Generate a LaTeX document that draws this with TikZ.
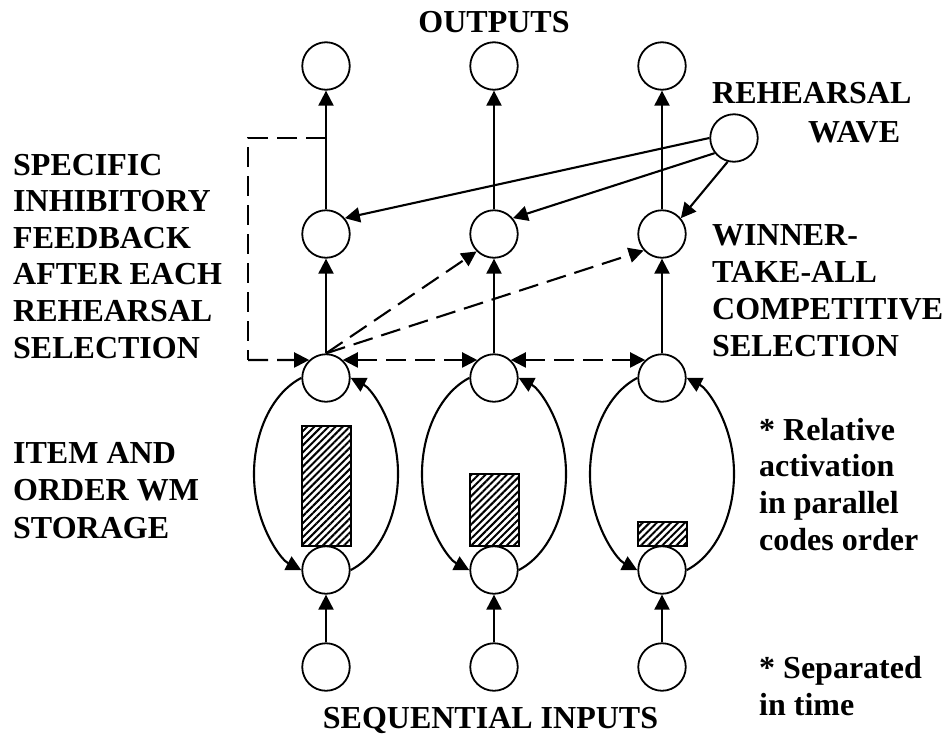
\documentclass[tikz,border=0pt]{standalone}
\usepackage{fontspec}
\setmainfont{Liberation Serif}
\usetikzlibrary{arrows.meta,patterns.meta}
\begin{document}
\begin{tikzpicture}[x=1pt,y=-1pt,
  neuron/.style={circle,draw,line width=1.8pt,minimum size=47.5pt,inner sep=0pt,outer sep=0.9pt},
  tipa/.style={-{Triangle[length=15pt,width=15pt]}},
  conn/.style={line width=2.1pt,tipa},
  fbline/.style={line width=2.1pt,dash pattern=on 20pt off 9pt},
  hatch/.style={line width=2pt,pattern={Lines[angle=45,distance=5pt,line width=2pt]}},
  lab/.style={font=\fontsize{32}{37}\selectfont\bfseries,inner sep=0pt,anchor=base west},
  title/.style={font=\fontsize{32}{37}\selectfont\bfseries,inner sep=0pt,anchor=base}
]
\useasboundingbox (0,0) rectangle (945,734);

% three columns of units
\foreach \c/\x in {1/326,2/494,3/662}{
  \node[neuron] (O\c) at (\x,66)  {};
  \node[neuron] (M\c) at (\x,234) {};
  \node[neuron] (L\c) at (\x,378) {};
  \node[neuron] (B\c) at (\x,570) {};
  \node[neuron] (I\c) at (\x,667) {};
  \coordinate (E\c) at (\x,474);
}
\node[neuron] (rw) at (734,138) {};

% feed-forward connections
\foreach \c in {1,2,3}{
  \draw[conn] (M\c) -- (O\c);
  \draw[conn] (L\c) -- (M\c);
  \draw[conn] (I\c) -- (B\c);
  % storage loop
  \draw[conn] ([shift={(249.9:72 and 102.3)}]E\c)
     arc[start angle=249.9,end angle=110.1,x radius=72,y radius=102.3];
  \draw[conn] ([shift={(69.9:72 and 102.3)}]E\c)
     arc[start angle=69.9,end angle=-69.9,x radius=72,y radius=102.3];
}

% activation levels
\draw[hatch] (301.5,426) rectangle (350.5,546);
\draw[hatch] (469.5,474) rectangle (518.5,546);
\draw[hatch] (637.5,522) rectangle (686.5,546);

% rehearsal wave
\draw[conn] (rw.180) -- (M1.40);
\draw[conn] (rw.218) -- (M2.40);
\draw[conn] (rw.255) -- (M3.40);

% inhibitory feedback
\coordinate (tap) at (326,138);
\coordinate (fbtop) at (248,138);
\coordinate (fbbot) at (248,360);
\draw[fbline] (tap) -- (fbtop) -- (fbbot);
\draw[fbline,tipa] (fbbot) -- (L1.133);
\draw[fbline,{Triangle[length=15pt,width=15pt]}-{Triangle[length=15pt,width=15pt]}] (L1.47) -- (L2.133);
\draw[fbline,{Triangle[length=15pt,width=15pt]}-{Triangle[length=15pt,width=15pt]}] (L2.47) -- (L3.133);
\draw[fbline,tipa] (L1.north) -- (M2.225);
\draw[fbline,tipa] (L1.north) -- (M3.222);

% labels
\node[title] (outs) at (494,32) {OUTPUTS};
\node[title] (ins) at (490.5,728) {SEQUENTIAL INPUTS};

\foreach \t [count=\k] in {SPECIFIC,INHIBITORY,FEEDBACK,AFTER EACH,REHEARSAL,SELECTION}
  \node[lab] (fb\k) at (13,{175+36.6*(\k-1)}) {\t};
\foreach \t [count=\k] in {ITEM AND,ORDER WM,STORAGE}
  \node[lab] (st\k) at (13,{463+37.5*(\k-1)}) {\t};
\node[lab] (rwa) at (712,103) {REHEARSAL};
\node[lab] (rwb) at (808,142) {WAVE};
\foreach \t [count=\k] in {WINNER-,TAKE-ALL,COMPETITIVE,SELECTION}
  \node[lab] (wt\k) at (712,{245+37.3*(\k-1)}) {\t};
\foreach \t [count=\k] in {* Relative,activation,in parallel,codes order}
  \node[lab] (ra\k) at (759,{440+36.7*(\k-1)}) {\t};
\node[lab] (sep1) at (759,678) {* Separated};
\node[lab] (sep2) at (759,715) {in time};
\end{tikzpicture}
\end{document}
